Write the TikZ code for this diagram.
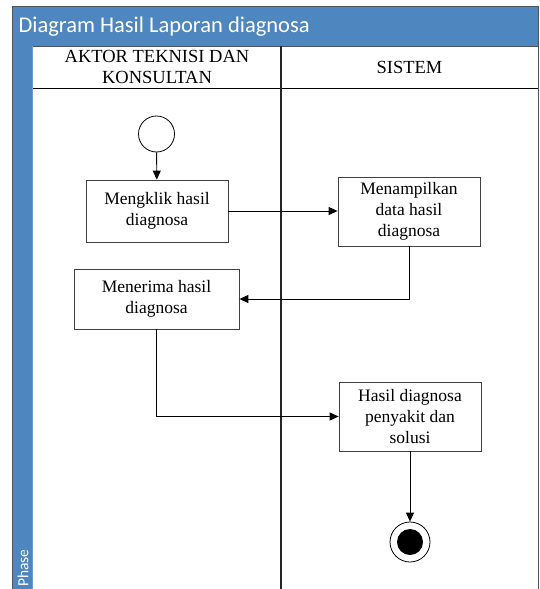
\documentclass[tikz,border=0pt]{standalone}
\usepackage{fontspec}
\setmainfont{Liberation Serif}
\newfontfamily\calib{Carlito}
\usetikzlibrary{arrows.meta,calc}
\definecolor{laneblue}{HTML}{4E86BF}
\definecolor{frame}{HTML}{4A5560}
\begin{document}
\begin{tikzpicture}[x=1pt,y=-1pt,
  actbox/.style={draw=black!75,fill=white,line width=0.8pt,inner sep=2pt,align=center,
    font=\fontsize{17.5}{21}\selectfont},
  flow/.style={line width=0.9pt,-{Triangle[length=9pt,width=8pt]}},
  lanetext/.style={align=center,font=\fontsize{18.5}{21}\selectfont}]
\useasboundingbox (0,0) rectangle (539,589);
% frame
\fill[laneblue] (12,6) rectangle (538,46);
\fill[laneblue] (12,46) rectangle (32,589);
\fill[white] (32,46) rectangle (538,589);
\draw[frame,line width=1pt] (12,589) -- (12,6) -- (538,6) -- (538,589);
\draw[frame,line width=0.8pt] (32,46) -- (538,46);
\draw[black,line width=0.8pt] (32,88) -- (538,88);
\draw[black!85,line width=1.2pt] (281,46) -- (281,589);
\draw[laneblue!80!white,line width=0.6pt] (32,46) -- (32,589);
\node[anchor=west,text=white,font=\calib\fontsize{22.5}{25}\selectfont] (title) at (15,27) {Diagram Hasil Laporan diagnosa};
\node[rotate=90,anchor=west,text=white,font=\calib\fontsize{15.5}{18}\selectfont,inner sep=1pt] (phase) at (23,588) {Phase};
\node[lanetext] (lane1) at (157,67) {AKTOR TEKNISI DAN\\KONSULTAN};
\node[lanetext] (lane2) at (409.5,67) {SISTEM};
% activities
\node[draw=black,line width=0.8pt,circle,minimum size=36pt,inner sep=0pt,fill=white] (start) at (156.5,134) {};
\node[actbox,minimum width=142pt,minimum height=62pt] (b1) at (157,211) {Mengklik hasil\\diagnosa};
\node[actbox,minimum width=142pt,minimum height=69pt] (b2) at (409,211.5) {Menampilkan\\data hasil\\diagnosa};
\node[actbox,minimum width=165pt,minimum height=60pt] (b3) at (156.5,299) {Menerima hasil\\diagnosa};
\node[actbox,minimum width=142pt,minimum height=69pt] (b4) at (410,416.5) {Hasil diagnosa\\penyakit dan\\solusi};
\node[draw=black,line width=0.8pt,circle,minimum size=40pt,inner sep=0pt,fill=white] (end) at (410,542) {};
\fill[black] (end.center) circle (13pt);
% flows
\draw[flow] (start) -- (b1);
\draw[flow] (b1.east) -- (b1.east -| b2.west);
\draw[flow] (b2.south) |- (b3.east);
\draw[flow] (b3.south) |- (b4.west);
\draw[flow] (b4.south) -- (end);
\end{tikzpicture}
\end{document}
